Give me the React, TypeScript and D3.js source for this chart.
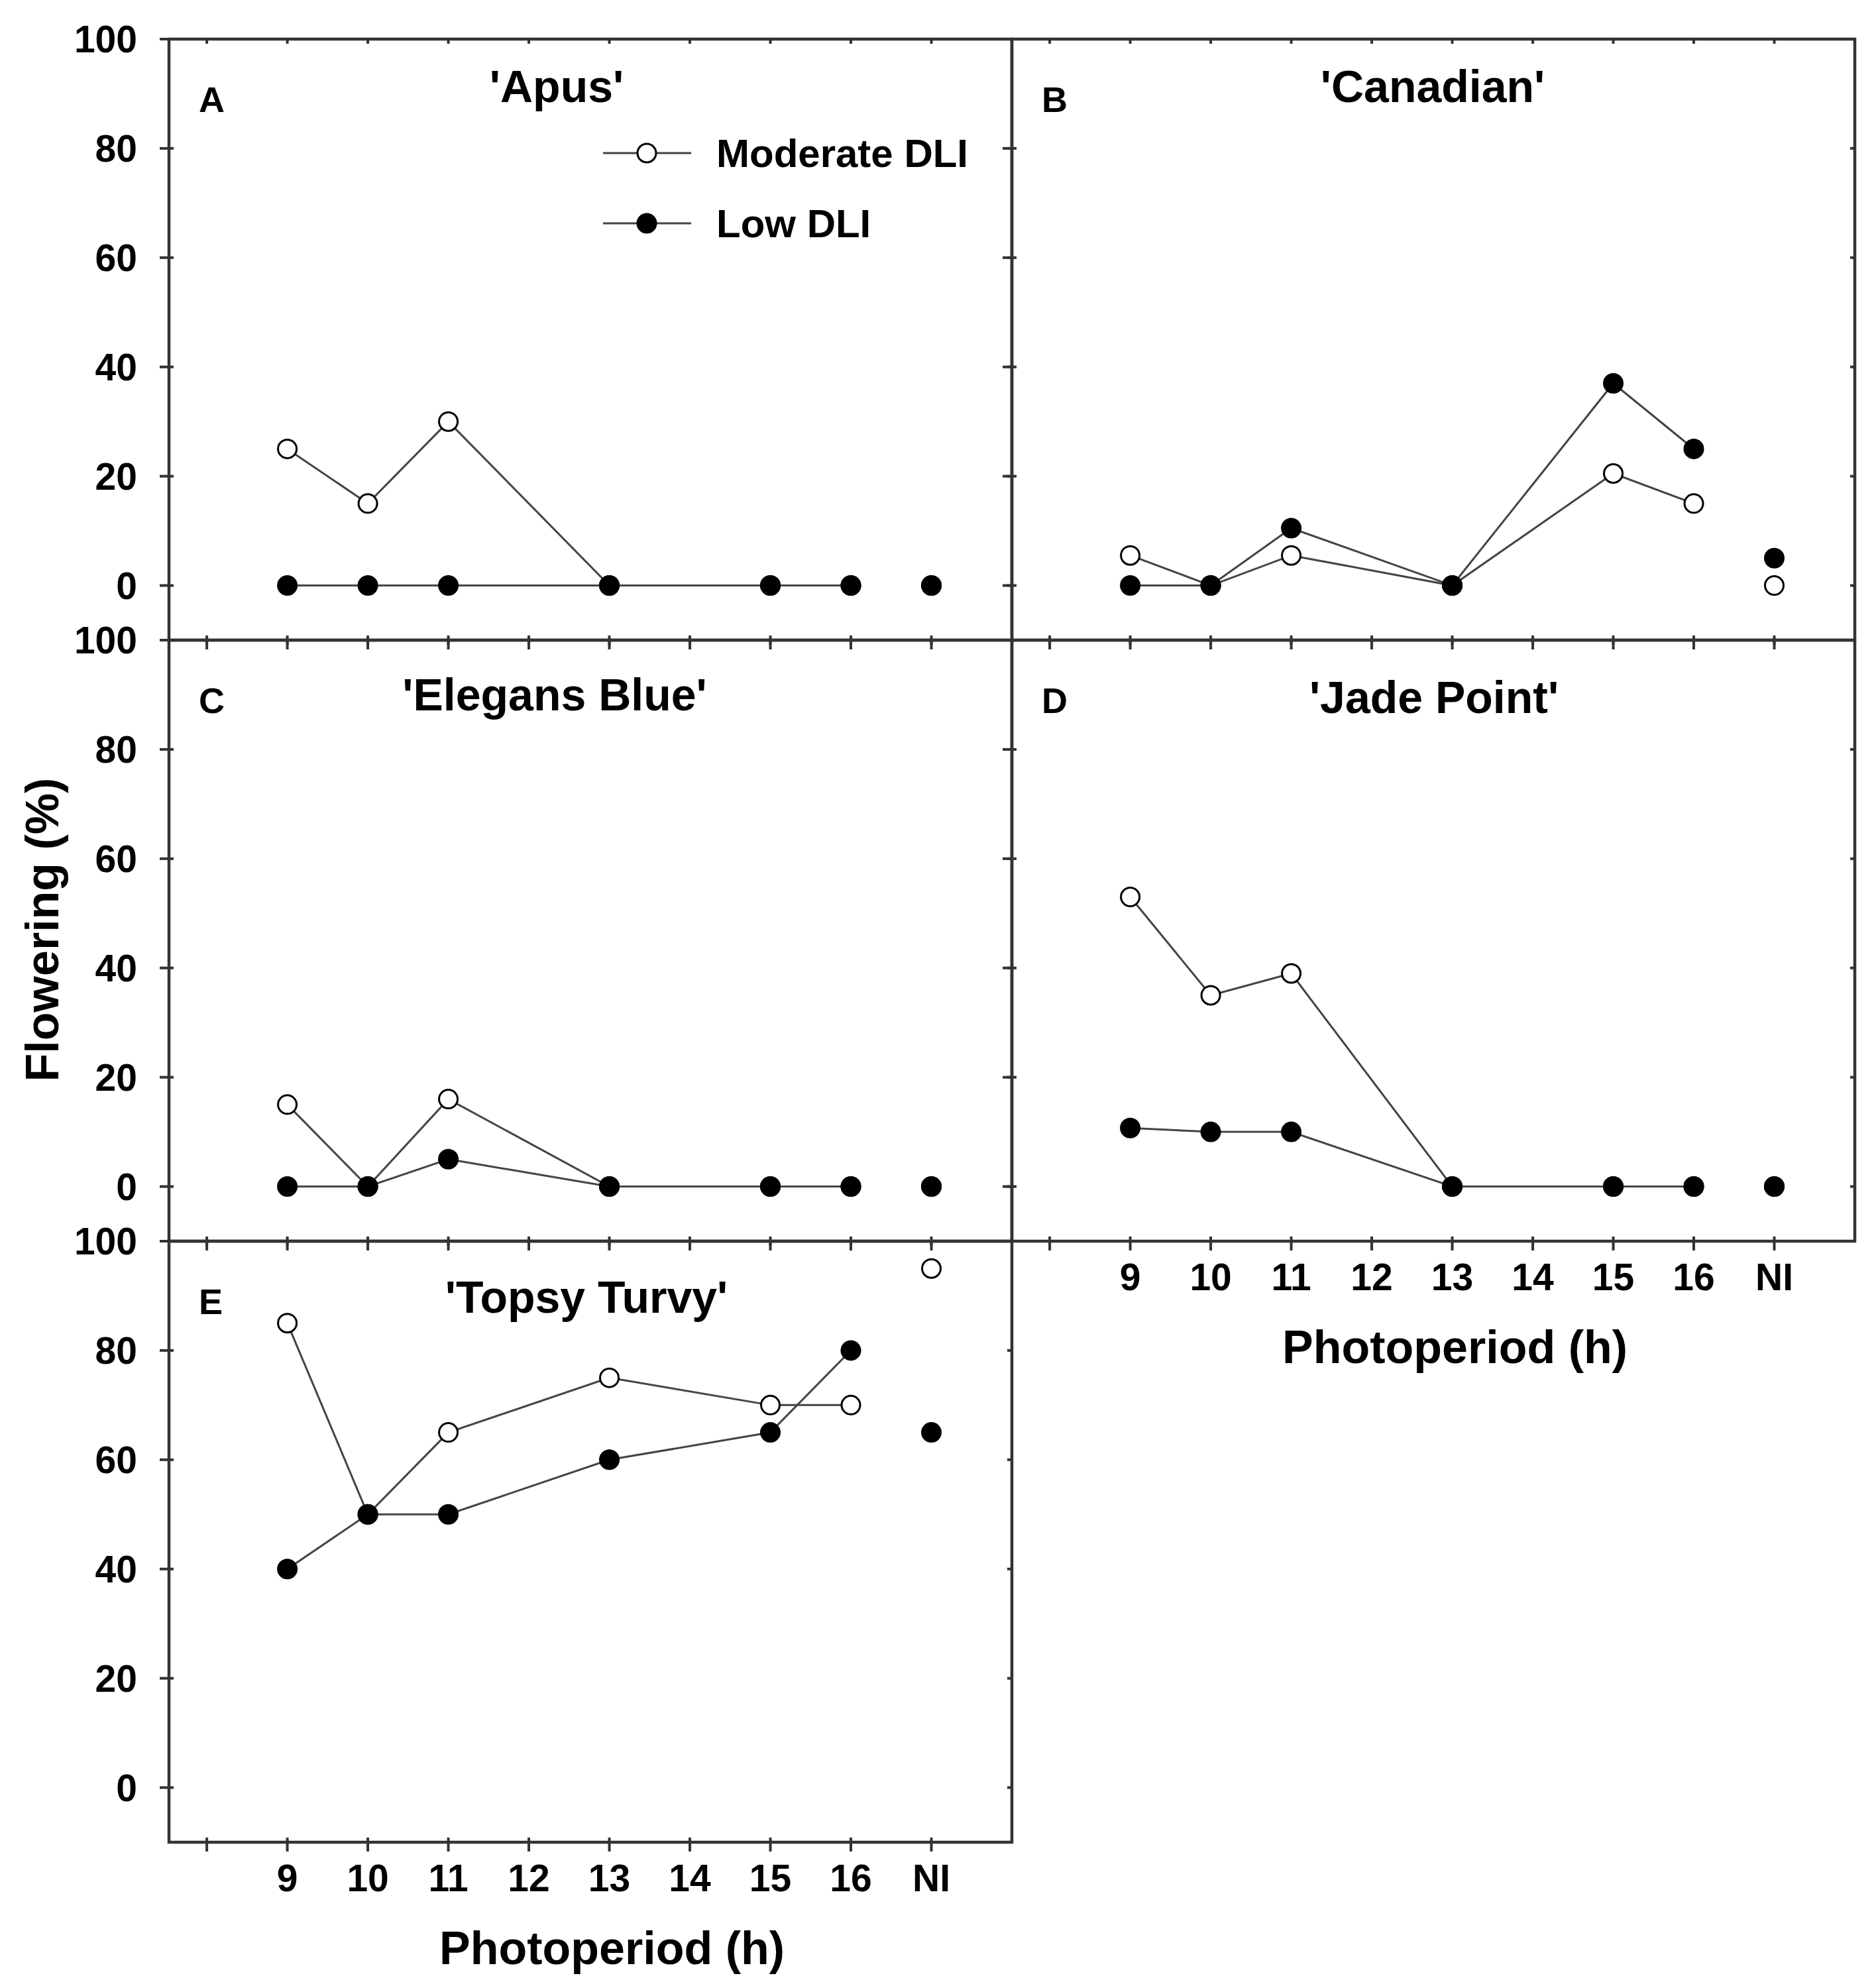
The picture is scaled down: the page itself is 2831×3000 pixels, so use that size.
import * as d3 from 'd3';

// x positions of the connected photoperiods, NI is drawn on its own at x = 17
const photoperiods = [9, 10, 11, 13, 15, 16];
const niPosition = 17;
const xTickValues = [8, 9, 10, 11, 12, 13, 14, 15, 16, 17];
const xTickLabels = ['', '9', '10', '11', '12', '13', '14', '15', '16', 'NI'];
const yTickValues = [0, 20, 40, 60, 80, 100];

const apusModerate = [25, 15, 30, 0, 0, 0];
const apusLow = [0, 0, 0, 0, 0, 0];
const apusNI = [0, 0]; // [moderate, low]

const canadianModerate = [5.5, 0, 5.5, 0, 20.5, 15];
const canadianLow = [0, 0, 10.5, 0, 37, 25];
const canadianNI = [0, 5];

const elegansModerate = [15, 0, 16, 0, 0, 0];
const elegansLow = [0, 0, 5, 0, 0, 0];
const elegansNI = [0, 0];

const jadeModerate = [53, 35, 39, 0, 0, 0];
const jadeLow = [10.7, 10, 10, 0, 0, 0];
const jadeNI = [0, 0];

const topsyModerate = [85, 50, 65, 75, 70, 70];
const topsyLow = [40, 50, 50, 60, 65, 80];
const topsyNI = [95, 65];

const legendLabels = ['Moderate DLI', 'Low DLI'];

const W = 2831;
const H = 3000;
const FONT = "'Liberation Sans', Arial, sans-serif";
const AXIS = '#333';
const LINE = '#444';

const colLeft = [255, 1527];
const panelW = 1272;
const rowTop = [59, 966, 1873];
const panelH = 907;

const panels = [
  { letter: 'A', title: "'Apus'", col: 0, row: 0, mod: apusModerate, low: apusLow, ni: apusNI, tx: 585, ty: 95, yLabels: true, xLabels: false, legend: true },
  { letter: 'B', title: "'Canadian'", col: 1, row: 0, mod: canadianModerate, low: canadianLow, ni: canadianNI, tx: 635, ty: 95, yLabels: false, xLabels: false, legend: false },
  { letter: 'C', title: "'Elegans Blue'", col: 0, row: 1, mod: elegansModerate, low: elegansLow, ni: elegansNI, tx: 582, ty: 106, yLabels: true, xLabels: false, legend: false },
  { letter: 'D', title: "'Jade Point'", col: 1, row: 1, mod: jadeModerate, low: jadeLow, ni: jadeNI, tx: 637, ty: 110, yLabels: false, xLabels: true, legend: false },
  { letter: 'E', title: "'Topsy Turvy'", col: 0, row: 2, mod: topsyModerate, low: topsyLow, ni: topsyNI, tx: 630, ty: 108, yLabels: true, xLabels: true, legend: false },
];

const Marker = ({ cx, cy, filled }: { cx: number; cy: number; filled: boolean }) => (
  <circle cx={cx} cy={cy} r={14} fill={filled ? '#000' : '#fff'} stroke="#000" strokeWidth={3} />
);

const Panel = ({ p }: { p: (typeof panels)[number] }) => {
  const left = colLeft[p.col];
  const top = rowTop[p.row];
  const x = d3.scaleLinear().domain([7.53, 18]).range([left, left + panelW]);
  const y = d3.scaleLinear().domain([-10, 100]).range([top + panelH, top]);
  const line = d3
    .line<number>()
    .x((_, i) => x(photoperiods[i]))
    .y((d) => y(d));
  const bottom = top + panelH;
  const right = left + panelW;

  return (
    <g>
      {/* ticks */}
      {xTickValues.map((v) => (
        <g key={'xt' + v}>
          <line x1={x(v)} x2={x(v)} y1={top} y2={top + 7} stroke={AXIS} strokeWidth={4} />
          <line x1={x(v)} x2={x(v)} y1={bottom - 7} y2={bottom + 14} stroke={AXIS} strokeWidth={4} />
        </g>
      ))}
      {yTickValues.map((v) => (
        <g key={'yt' + v}>
          <line x1={left - 14} x2={left + 7} y1={y(v)} y2={y(v)} stroke={AXIS} strokeWidth={4} />
          <line x1={right - 7} x2={right} y1={y(v)} y2={y(v)} stroke={AXIS} strokeWidth={4} />
        </g>
      ))}
      <rect x={left} y={top} width={panelW} height={panelH} fill="none" stroke={AXIS} strokeWidth={4.5} />

      {p.yLabels &&
        yTickValues.map((v) => (
          <text key={'yl' + v} x={207} y={y(v) + 20} textAnchor="end" fontSize={57} fontWeight="bold" fontFamily={FONT}>
            {v}
          </text>
        ))}
      {p.xLabels && (
        <g>
          {xTickValues.map((v, i) => (
            <text key={'xl' + v} x={x(v)} y={bottom + 74} textAnchor="middle" fontSize={57} fontWeight="bold" fontFamily={FONT}>
              {xTickLabels[i]}
            </text>
          ))}
          <text x={x(13) + 4} y={bottom + 184} textAnchor="middle" fontSize={70} fontWeight="bold" fontFamily={FONT}>
            Photoperiod (h)
          </text>
        </g>
      )}

      <text x={left + 45} y={top + 110} fontSize={54} fontWeight="bold" fontFamily={FONT}>
        {p.letter}
      </text>
      <text x={left + p.tx} y={top + p.ty} textAnchor="middle" fontSize={68} fontWeight="bold" fontFamily={FONT}>
        {p.title}
      </text>

      <path d={line(p.mod) ?? ''} fill="none" stroke={LINE} strokeWidth={3} />
      <path d={line(p.low) ?? ''} fill="none" stroke={LINE} strokeWidth={3} />
      {p.mod.map((v, i) => (
        <Marker key={'m' + i} cx={x(photoperiods[i])} cy={y(v)} filled={false} />
      ))}
      <Marker cx={x(niPosition)} cy={y(p.ni[0])} filled={false} />
      {p.low.map((v, i) => (
        <Marker key={'l' + i} cx={x(photoperiods[i])} cy={y(v)} filled />
      ))}
      <Marker cx={x(niPosition)} cy={y(p.ni[1])} filled />

      {p.legend &&
        legendLabels.map((label, i) => {
          const ly = top + 172 + i * 106;
          return (
            <g key={label}>
              <line x1={left + 655} x2={left + 788} y1={ly} y2={ly} stroke={LINE} strokeWidth={3} />
              <Marker cx={left + 721} cy={ly} filled={i === 1} />
              <text x={left + 826} y={ly + 21} fontSize={60} fontWeight="bold" fontFamily={FONT}>
                {label}
              </text>
            </g>
          );
        })}
    </g>
  );
};

export default function App() {
  return (
    <svg width={W} height={H} style={{ position: 'absolute', left: 0, top: 0, background: '#fff' }}>
      <rect width={W} height={H} fill="#fff" />
      {panels.map((p) => (
        <Panel key={p.letter} p={p} />
      ))}
      <text
        transform="translate(88,1403) rotate(-90)"
        textAnchor="middle"
        fontSize={70}
        fontWeight="bold"
        fontFamily={FONT}
      >
        Flowering (%)
      </text>
    </svg>
  );
}
